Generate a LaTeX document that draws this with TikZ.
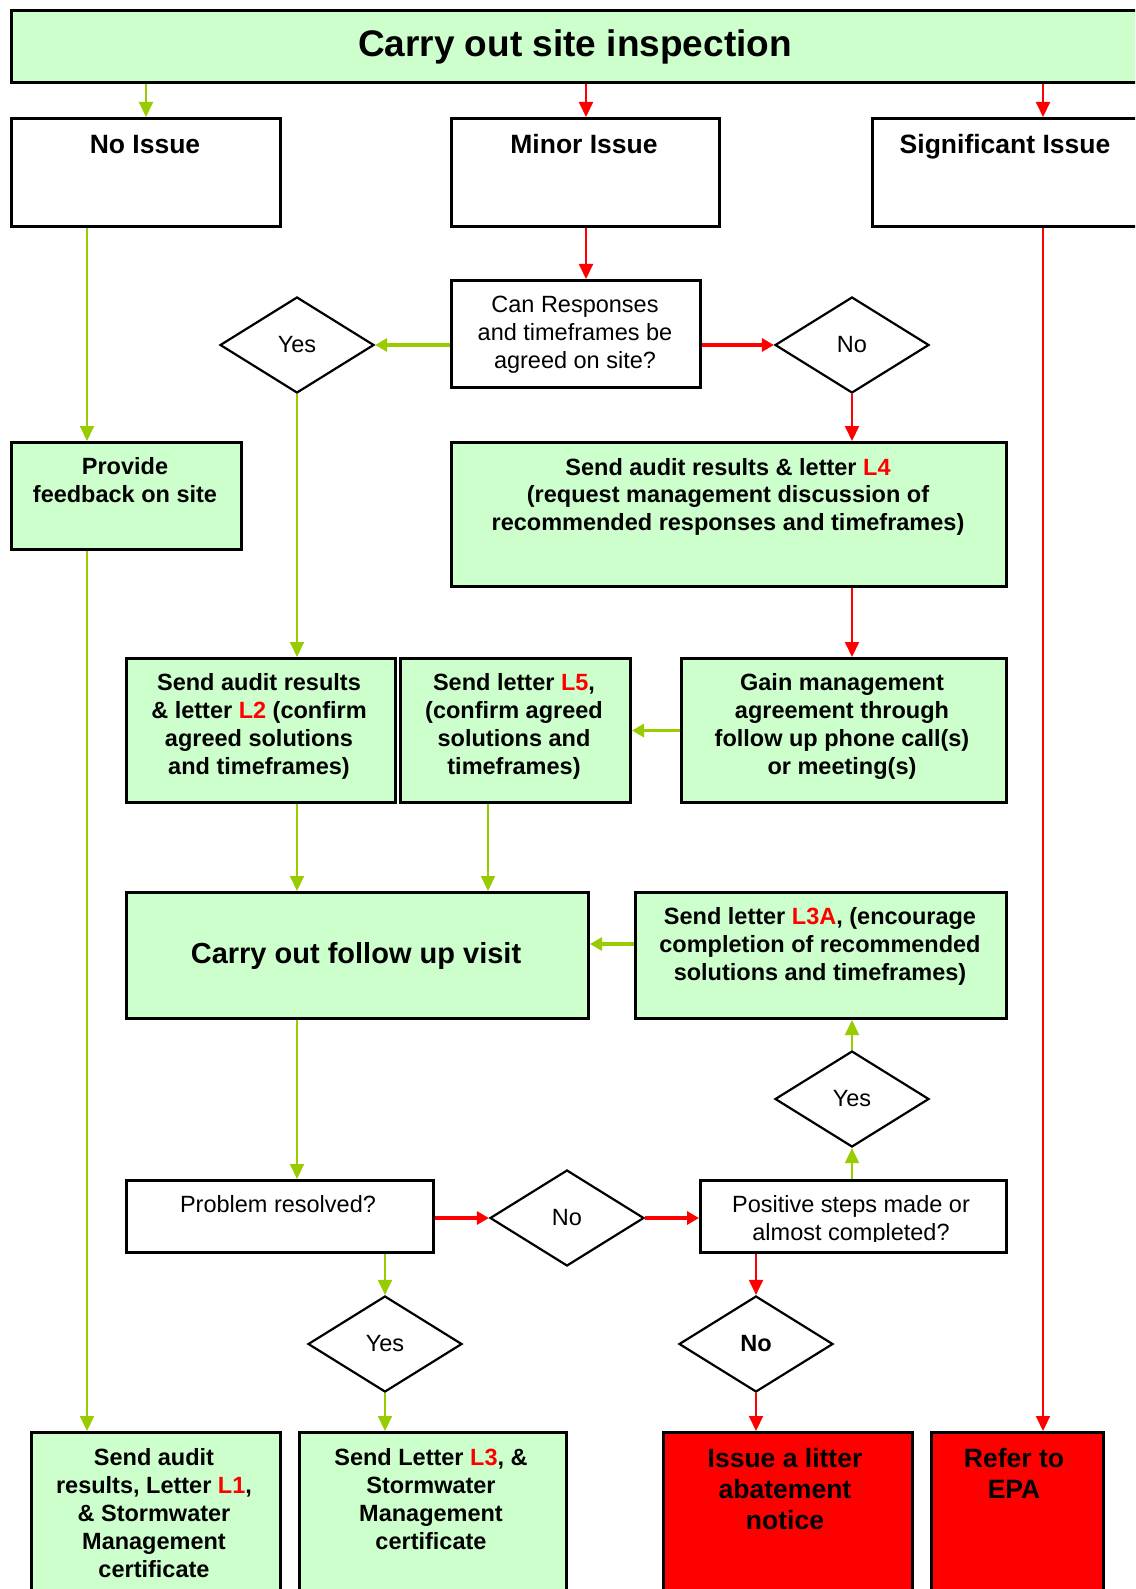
\documentclass[tikz,border=0pt]{standalone}
\usepackage{fontspec}
\setmainfont{Liberation Sans}
\usetikzlibrary{shapes.geometric,arrows.meta}
\definecolor{boxgreen}{HTML}{CCFFCC}
\definecolor{agreen}{HTML}{99CC00}
\newcommand\fsN{\fontsize{23.5}{28}\selectfont}
\newcommand\fsB{\fontsize{23.5}{28}\selectfont\bfseries}
\newcommand\fsH{\fontsize{26.5}{31}\selectfont\bfseries}
\newcommand\tstr{\rule{0pt}{20pt}}
\newcommand\hstr{\rule{0pt}{22pt}}
\newcommand\rd[1]{\textcolor{red}{#1}}
\tikzset{
  box/.style={draw=black, line width=3pt, inner sep=0pt, anchor=north west},
  gbox/.style={box, fill=boxgreen},
  wbox/.style={box, fill=white},
  rbox/.style={box, fill=red},
  dia/.style={diamond, draw=black, line width=2.2pt, fill=white, minimum width=154pt, minimum height=96pt, inner sep=0pt, font=\fsN},
  txt/.style={anchor=north, align=center, inner sep=0pt, font=\fsB},
  ntxt/.style={txt, font=\fsN},
  htxt/.style={txt, font=\fsH},
  ga/.style={draw=agreen, line width=2pt, -{Triangle[length=15pt,width=14pt]}},
  ra/.style={draw=red, line width=2pt, -{Triangle[length=15pt,width=14pt]}},
  gat/.style={draw=agreen, line width=3.2pt, -{Triangle[length=12pt,width=13pt]}},
  rat/.style={draw=red, line width=3.2pt, -{Triangle[length=12pt,width=13pt]}}
}
\begin{document}
\begin{tikzpicture}[x=1pt,y=-1pt]
\clip (0,0) rectangle (1135,1589);
% boxes
\node[gbox, minimum width=1140pt, minimum height=72pt] (top) at (10,9) {};
\node[wbox, minimum width=269pt, minimum height=108pt] (noissue) at (10,117) {};
\node[wbox, minimum width=268pt, minimum height=108pt] (minor) at (450,117) {};
\node[wbox, minimum width=279pt, minimum height=108pt] (sig) at (871,117) {};
\node[wbox, minimum width=249pt, minimum height=107pt] (can) at (450,279) {};
\node[gbox, minimum width=230pt, minimum height=107pt] (feedback) at (10,441) {};
\node[gbox, minimum width=555pt, minimum height=144pt] (l4) at (450,441) {};
\node[gbox, minimum width=269pt, minimum height=144pt] (l2) at (125,657) {};
\node[gbox, minimum width=230pt, minimum height=144pt] (l5) at (399,657) {};
\node[gbox, minimum width=325pt, minimum height=144pt] (gain) at (680,657) {};
\node[gbox, minimum width=462pt, minimum height=126pt] (follow) at (125,891) {};
\node[gbox, minimum width=371pt, minimum height=126pt] (l3a) at (634,891) {};
\node[wbox, minimum width=307pt, minimum height=72pt] (problem) at (125,1179) {};
\node[wbox, minimum width=306pt, minimum height=72pt] (positive) at (699,1179) {};
\node[gbox, minimum width=249pt, minimum height=180pt] (l1) at (30,1431) {};
\node[gbox, minimum width=267pt, minimum height=180pt] (l3) at (298,1431) {};
\node[rbox, minimum width=249pt, minimum height=180pt] (issue) at (662,1431) {};
\node[rbox, minimum width=172pt, minimum height=180pt] (epa) at (930,1431) {};
% diamonds
\node[dia] (yes1) at (297,345) {Yes};
\node[dia] (no1) at (852,345) {No};
\node[dia] (yes2) at (852,1099) {Yes};
\node[dia] (no2) at (567,1218) {No};
\node[dia] (yes3) at (385,1344) {Yes};
\node[dia, font=\fsB] (no3) at (756,1344) {No};
% texts
\node[txt, font=\fontsize{37}{44}\selectfont\bfseries] (ttop) at (575,26.3) {\rule{0pt}{30pt}Carry out site inspection};
\node[htxt] (tnoissue) at (145,131.5) {\hstr No Issue};
\node[htxt] (tminor) at (584,131.5) {\hstr Minor Issue};
\node[htxt] (tsig) at (1005,131.5) {\hstr Significant Issue};
\node[ntxt] (tcan) at (575,292) {\tstr Can Responses\\and timeframes be\\agreed on site?};
\node[txt] (tfeedback) at (125,454) {\tstr Provide\\feedback on site};
\node[txt, font=\fontsize{23.5}{27.5}\selectfont\bfseries] (tl4) at (728,455) {\tstr Send audit results \& letter \rd{L4}\\(request management discussion of\\recommended responses and timeframes)};
\node[txt] (tl2) at (259,670) {\tstr Send audit results\\\& letter \rd{L2} (confirm\\agreed solutions\\and timeframes)};
\node[txt] (tl5) at (514,670) {\tstr Send letter \rd{L5},\\(confirm agreed\\solutions and\\timeframes)};
\node[txt] (tgain) at (842,670) {\tstr Gain management\\agreement through\\follow up phone call(s)\\or meeting(s)};
\node[txt, font=\fontsize{29}{34}\selectfont\bfseries] (tfollow) at (356,939.5) {\rule{0pt}{24pt}Carry out follow up visit};
\node[txt] (tl3a) at (820,904) {\tstr Send letter \rd{L3A}, (encourage\\completion of recommended\\solutions and timeframes)};
\node[ntxt] (tproblem) at (278,1192) {\tstr Problem resolved?};
\begin{scope}
\clip (699,1179) rectangle (1005,1241);
\node[ntxt] (tpositive) at (851,1192) {\tstr Positive steps made or\\almost completed?};
\end{scope}
\node[txt] (tl1) at (154,1445) {\tstr Send audit\\results, Letter \rd{L1},\\\& Stormwater\\Management\\certificate};
\node[txt] (tl3) at (431,1445) {\tstr Send Letter \rd{L3}, \&\\Stormwater\\Management\\certificate};
\node[htxt] (tissue) at (785,1445.5) {\hstr Issue a litter\\abatement\\notice};
\node[htxt] (tepa) at (1014,1445.5) {\hstr Refer to\\EPA};
% helper coordinates
\coordinate (sigx) at (1043,0);
\coordinate (fbx) at (87,0);
\coordinate (l5x) at (488,0);
\coordinate (ay) at (0,944);
\coordinate (mx) at (586,0);
% connectors
\draw[ga] (top.south -| noissue.north) -- (noissue.north);
\draw[ra] (top.south -| mx) -- (minor.north -| mx);
\draw[ra] (top.south -| sigx) -- (sig.north -| sigx);
\draw[ra] (minor.south -| mx) -- (can.north -| mx);
\draw[gat] (can.west |- yes1) -- (yes1.east);
\draw[rat] (can.east |- no1) -- (no1.west);
\draw[ra] (no1.south) -- (l4.north -| no1.south);
\draw[ga] (noissue.south -| fbx) -- (feedback.north -| fbx);
\draw[ga] (feedback.south -| fbx) -- (l1.north -| fbx);
\draw[ga] (yes1.south) -- (l2.north -| yes1.south);
\draw[ra] (l4.south -| no1) -- (gain.north -| no1);
\draw[gat] (gain.west) -- (l5.east);
\draw[ga] (l2.south -| yes1) -- (follow.north -| yes1);
\draw[ga] (l5.south -| l5x) -- (follow.north -| l5x);
\draw[gat] (l3a.west |- ay) -- (follow.east |- ay);
\draw[ga] (follow.south -| yes1) -- (problem.north -| yes1);
\draw[rat] (problem.east |- no2) -- (no2.west);
\draw[rat] (no2.east) -- (positive.west |- no2);
\draw[ga] (positive.north -| yes2) -- (yes2.south);
\draw[ga] (yes2.north) -- (l3a.south -| yes2);
\draw[ga] (problem.south -| yes3) -- (yes3.north);
\draw[ra] (positive.south -| no3) -- (no3.north);
\draw[ga] (yes3.south) -- (l3.north -| yes3);
\draw[ra] (no3.south) -- (issue.north -| no3);
\draw[ra] (sig.south -| sigx) -- (epa.north -| sigx);
\end{tikzpicture}
\end{document}
